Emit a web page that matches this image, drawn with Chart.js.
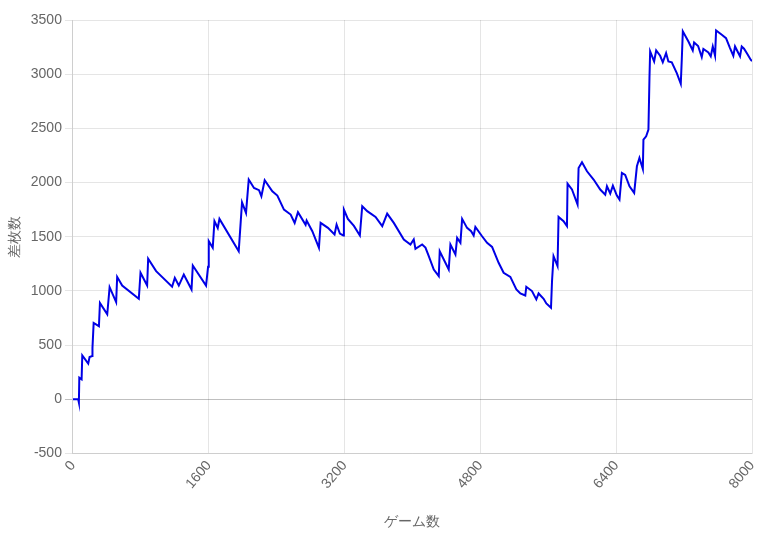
<!DOCTYPE html>
<html>
<head>
<meta charset="utf-8">
<script src="https://cdn.jsdelivr.net/npm/chart.js@4/dist/chart.umd.min.js"></script>
<style>
  body { margin: 0; background: #fff; }
</style>
</head>
<body>
<canvas id="chart" width="765" height="537"></canvas>
<script>
// ゲーム数 (x) と 差枚数 (y)
const games = [
  0, 62, 70, 75, 102, 110, 180, 196, 227, 230, 244, 306, 318, 404, 432, 509, 521, 580, 776, 796,
  874, 886, 980, 1168, 1200, 1247, 1306, 1397, 1412, 1568, 1592, 1600, 1647, 1667, 1706, 1726, 1953, 1973, 1992, 2039,
  2071, 2133, 2192, 2220, 2259, 2349, 2408, 2486, 2565, 2612, 2651, 2741, 2753, 2820, 2898, 2918, 3004, 3082, 3106, 3145,
  3185, 3192, 3239, 3310, 3380, 3408, 3467, 3565, 3644, 3702, 3780, 3898, 3976, 4015, 4035, 4114, 4153, 4192, 4251, 4310,
  4321, 4427, 4447, 4506, 4526, 4565, 4585, 4643, 4691, 4721, 4741, 4820, 4879, 4938, 5015, 5074, 5153, 5224, 5271, 5329,
  5341, 5408, 5459, 5486, 5545, 5577, 5632, 5644, 5662, 5709, 5721, 5780, 5820, 5827, 5879, 5945, 5957, 5997, 6056, 6134,
  6212, 6271, 6291, 6330, 6361, 6408, 6439, 6467, 6506, 6557, 6612, 6644, 6674, 6714, 6721, 6753, 6780, 6792, 6800, 6847,
  6871, 6918, 6949, 6988, 7015, 7055, 7114, 7161, 7173, 7185, 7251, 7302, 7318, 7365, 7408, 7427, 7486, 7514, 7538, 7565,
  7577, 7644, 7694, 7741, 7780, 7800, 7839, 7859, 7879, 7906, 7938, 7985, 8000
];
const coins = [
  0, 0, -30, 200, 185, 405, 330, 390, 400, 475, 705, 675, 890, 785, 1035, 897, 1130, 1050, 928, 1168,
  1050, 1297, 1183, 1039, 1121, 1050, 1152, 1014, 1235, 1050, 1223, 1459, 1398, 1644, 1581, 1665, 1367, 1598, 1818, 1720,
  2028, 1950, 1930, 1874, 2021, 1920, 1880, 1751, 1705, 1628, 1727, 1610, 1650, 1551, 1398, 1628, 1582, 1521, 1613, 1530,
  1512, 1751, 1665, 1600, 1512, 1782, 1736, 1683, 1598, 1714, 1628, 1475, 1429, 1475, 1389, 1429, 1400, 1321, 1198, 1137,
  1367, 1198, 1429, 1336, 1490, 1444, 1665, 1582, 1551, 1512, 1591, 1505, 1444, 1407, 1260, 1168, 1130, 1014, 977, 958,
  1039, 999, 922, 977, 928, 885, 845, 1090, 1321, 1229, 1683, 1644, 1598, 1990, 1936, 1797, 2135, 2187, 2104, 2028,
  1936, 1889, 1966, 1899, 1972, 1880, 1843, 2089, 2070, 1966, 1905, 2150, 2227, 2125, 2396, 2427, 2488, 2965, 3210, 3118,
  3219, 3170, 3110, 3195, 3118, 3110, 3010, 2912, 3140, 3395, 3302, 3219, 3293, 3260, 3158, 3232, 3200, 3164, 3256, 3170,
  3404, 3364, 3333, 3241, 3170, 3256, 3195, 3164, 3256, 3235, 3195, 3133, 3120
];

const points = games.map((g, i) => ({x: g, y: coins[i]}));

const ctx = document.getElementById(`chart`).getContext(`2d`);

new Chart(ctx, {
  type: `line`,
  data: {
    datasets: [{
      label: `差枚数`,
      data: points,
      borderColor: `#0000e6`,
      borderWidth: 2,
      pointRadius: 0,
      tension: 0,
      fill: false,
    }],
  },
  options: {
    responsive: false,
    animation: false,
    layout: {
      padding: {top: 20, right: 0, left: 3, bottom: 2},
    },
    plugins: {
      legend: {display: false},
      tooltip: {enabled: false},
    },
    scales: {
      x: {
        type: `linear`,
        min: 0,
        max: 8000,
        afterFit: (scale) => {
          // 右端のラベル分の余白を少し詰める
          scale.paddingRight = 13;
        },
        grid: {
          drawTicks: false,
        },
        ticks: {
          stepSize: 1600,
          autoSkip: false,
          minRotation: 50,
          maxRotation: 50,
          padding: 4,
          color: `#666`,
          font: {size: 14},
          callback: (value) => String(value),
        },
        title: {
          display: true,
          text: `ゲーム数`,
          color: `#666`,
          font: {size: 14},
          padding: {top: 18, bottom: 4},
        },
      },
      y: {
        min: -500,
        max: 3500,
        ticks: {
          stepSize: 500,
          color: `#666`,
          font: {size: 14},
          callback: (value) => String(value),
        },
        grid: {
          color: (c) => (c.tick && c.tick.value === 0 ? `rgba(0,0,0,0.25)` : `rgba(0,0,0,0.1)`),
        },
        title: {
          display: true,
          text: `差枚数`,
          color: `#666`,
          font: {size: 14},
        },
      },
    },
  },
});
</script>
</body>
</html>
